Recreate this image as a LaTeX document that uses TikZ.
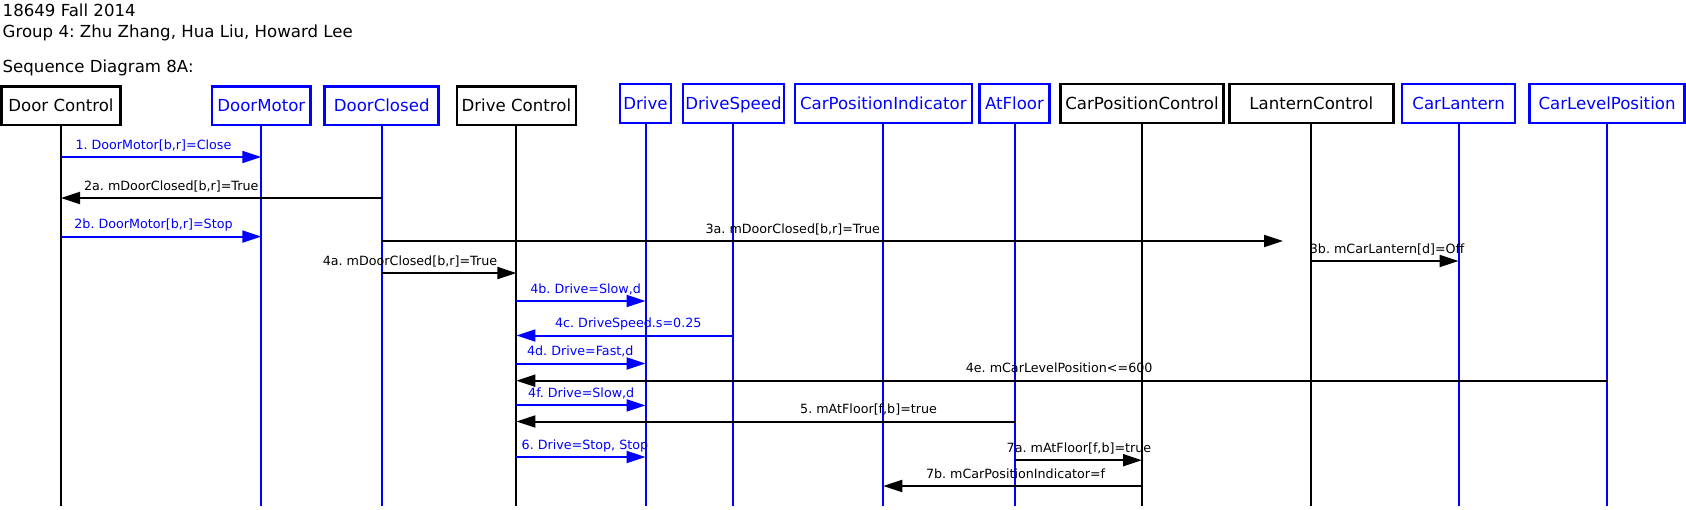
\documentclass[tikz,border=0pt]{standalone}
\usepackage{fontspec}
\setmainfont{DejaVu Sans}
\usetikzlibrary{arrows.meta}
\definecolor{pblue}{RGB}{0,0,255}
\frenchspacing
\tikzset{
  hdr/.style={inner sep=0pt, anchor=base west, font=\fontsize{16.6}{20}\selectfont},
  actor/.style={draw, line width=2.5pt, rectangle, inner sep=0pt, text height=12pt, text depth=0pt, font=\fontsize{16.6}{20}\selectfont},
  actorb/.style={actor, draw=pblue, text=pblue},
  life/.style={line width=2pt},
  lifeb/.style={life, draw=pblue},
  msg/.style={line width=2pt, -{Triangle[length=19pt,width=12pt]}},
  msgb/.style={msg, draw=pblue, fill=pblue},
  lbl/.style={inner sep=0pt, anchor=base west, font=\fontsize{12.7}{15}\selectfont},
  lblb/.style={lbl, text=pblue}
}
\begin{document}
\begin{tikzpicture}[x=1pt,y=-1pt]
\useasboundingbox (0,0) rectangle (1686,509);
% header
\node[hdr] (h1) at (2.5,16) {18649 Fall 2014};
\node[hdr] (h2) at (2.5,37.7) {Group 4: Zhu Zhang, Hua Liu, Howard Lee};
\node[hdr] (h3) at (2.5,72.7) {Sequence Diagram 8A:};
% actors
\node[actor,  minimum width=119.4pt, minimum height=38.5pt] (DC)  at (61,105.8) {Door Control};
\node[actorb, minimum width=98.5pt,  minimum height=38.5pt] (DM)  at (261.3,105.8) {DoorMotor};
\node[actorb, minimum width=114pt,   minimum height=38.5pt] (DCl) at (381.7,105.8) {DoorClosed};
\node[actor,  minimum width=119pt,   minimum height=38.5pt] (DrC) at (516.4,105.8) {Drive Control};
\node[actorb, minimum width=51pt,    minimum height=39pt] (Dr)  at (645.5,103.5) {Drive};
\node[actorb, minimum width=101pt,   minimum height=39pt] (DS)  at (733.4,103.5) {DriveSpeed};
\node[actorb, minimum width=177pt,   minimum height=39pt] (CPI) at (883.3,103.5) {CarPositionIndicator};
\node[actorb, minimum width=70pt,    minimum height=39pt] (AF)  at (1014.5,103.5) {AtFloor};
\node[actor,  minimum width=163pt,   minimum height=39pt] (CPC) at (1142,103.5) {CarPositionControl};
\node[actor,  minimum width=164pt,   minimum height=39pt] (LC)  at (1311.3,103.5) {LanternControl};
\node[actorb, minimum width=113pt,   minimum height=39pt] (CL)  at (1458.6,103.5) {CarLantern};
\node[actorb, minimum width=155pt,   minimum height=39pt] (CLP) at (1607,103.5) {CarLevelPosition};
% lifeline ends
\foreach \n in {DC,DM,DCl,DrC,Dr,DS,CPI,AF,CPC,LC,CL,CLP}{
  \coordinate (\n-end) at (\n.south |- 0,506);
}
\draw[life]  (DC.south)  -- (DC-end);
\draw[lifeb] (DM.south)  -- (DM-end);
\draw[lifeb] (DCl.south) -- (DCl-end);
\draw[life]  (DrC.south) -- (DrC-end);
\draw[lifeb] (Dr.south)  -- (Dr-end);
\draw[lifeb] (DS.south)  -- (DS-end);
\draw[lifeb] (CPI.south) -- (CPI-end);
\draw[lifeb] (AF.south)  -- (AF-end);
\draw[life]  (CPC.south) -- (CPC-end);
\draw[life]  (LC.south)  -- (LC-end);
\draw[lifeb] (CL.south)  -- (CL-end);
\draw[lifeb] (CLP.south) -- (CLP-end);
% messages
\coordinate (m3aend) at (1283,241);
\draw[msgb] (DC.south |- 0,157)   -- (DM.south |- 0,157);
\draw[msg]  (DCl.south |- 0,198)  -- (DC.south |- 0,198);
\draw[msgb] (DC.south |- 0,236.6) -- (DM.south |- 0,236.6);
\draw[msg]  (DCl.south |- m3aend) -- (m3aend);
\draw[msg]  (LC.south |- 0,261)   -- (CL.south |- 0,261);
\draw[msg]  (DCl.south |- 0,273)  -- (DrC.south |- 0,273);
\draw[msgb] (DrC.south |- 0,301)  -- (Dr.south |- 0,301);
\draw[msgb] (DS.south |- 0,335.5) -- (DrC.south |- 0,335.5);
\draw[msgb] (DrC.south |- 0,363.5) -- (Dr.south |- 0,363.5);
\draw[msg]  (CLP.south |- 0,380.7) -- (DrC.south |- 0,380.7);
\draw[msgb] (DrC.south |- 0,405.4) -- (Dr.south |- 0,405.4);
\draw[msg]  (AF.south |- 0,421.5) -- (DrC.south |- 0,421.5);
\draw[msgb] (DrC.south |- 0,457)  -- (Dr.south |- 0,457);
\draw[msg]  (AF.south |- 0,460.2) -- (CPC.south |- 0,460.2);
\draw[msg]  (CPC.south |- 0,486)  -- (CPI.south |- 0,486);
% labels
\node[lblb] (l1)  at (75.3,149)   {1. DoorMotor[b,r]=Close};
\node[lbl]  (l2a) at (83.9,190)   {2a. mDoorClosed[b,r]=True};
\node[lblb] (l2b) at (74.2,228.6) {2b. DoorMotor[b,r]=Stop};
\node[lbl]  (l3a) at (705.4,233)  {3a. mDoorClosed[b,r]=True};
\node[lbl]  (l3b) at (1309.7,253) {3b. mCarLantern[d]=Off};
\node[lbl]  (l4a) at (322.6,265)  {4a. mDoorClosed[b,r]=True};
\node[lblb] (l4b) at (530.1,293)  {4b. Drive=Slow,d};
\node[lblb] (l4c) at (554.9,327.5) {4c. DriveSpeed.s=0.25};
\node[lblb] (l4d) at (526.9,355.5) {4d. Drive=Fast,d};
\node[lbl]  (l4e) at (965.6,372.7) {4e. mCarLevelPosition<=600};
\node[lblb] (l4f) at (528,397.4)  {4f. Drive=Slow,d};
\node[lbl]  (l5)  at (800,413.5)  {5. mAtFloor[f,b]=true};
\node[lblb] (l6)  at (521.5,449)  {6. Drive=Stop, Stop};
\node[lbl]  (l7a) at (1006.5,452) {7a. mAtFloor[f,b]=true};
\node[lbl]  (l7b) at (925.8,478)  {7b. mCarPositionIndicator=f};
\end{tikzpicture}
\end{document}
